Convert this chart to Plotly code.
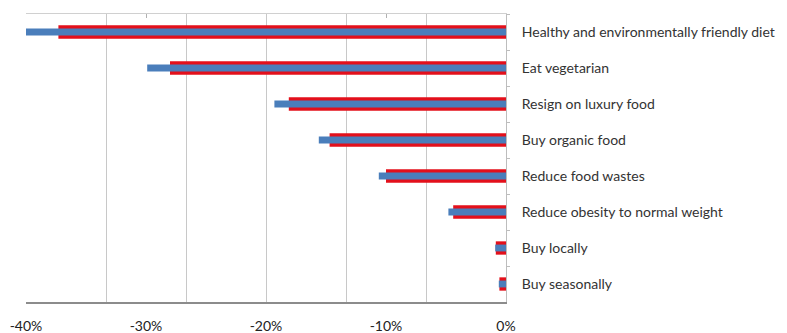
import plotly.graph_objects as go

categories = [
    "Healthy and environmentally friendly diet",
    "Eat vegetarian",
    "Resign on luxury food",
    "Buy organic food",
    "Reduce food wastes",
    "Reduce obesity to normal weight",
    "Buy locally",
    "Buy seasonally",
]
red_values = [-37.3, -28.0, -18.1, -14.7, -10.0, -4.4, -0.85, -0.55]
blue_values = [-40.0, -29.9, -19.3, -15.6, -10.6, -4.8, -0.9, -0.6]

grid_vals = [-40 + k * 40 / 6 for k in range(7)]
label_vals = [-40, -30, -20, -10, 0]
label_text = ["-40%", "-30%", "-20%", "-10%", "0%"]

FONT = "Lato"

fig = go.Figure()
fig.add_trace(go.Bar(
    y=categories, x=red_values, orientation="h", width=0.37,
    marker=dict(color="#E3101B", line=dict(width=0)), xaxis="x", yaxis="y",
    showlegend=False,
))
fig.add_trace(go.Bar(
    y=categories, x=blue_values, orientation="h", width=0.19,
    marker=dict(color="#4A7EBB", line=dict(width=0)), xaxis="x", yaxis="y",
    showlegend=False,
))
fig.add_trace(go.Scatter(x=[None], y=[None], xaxis="x2", yaxis="y", showlegend=False))
fig.add_trace(go.Scatter(x=[None], y=[None], xaxis="x3", yaxis="y", showlegend=False))

fig.update_layout(
    width=787, height=333,
    margin=dict(l=26, r=281, t=14, b=31),
    paper_bgcolor="white", plot_bgcolor="white",
    barmode="overlay",
    font=dict(family=FONT, size=14, color="#333333"),
    xaxis=dict(
        range=[-40, 0], tickvals=grid_vals, showticklabels=False,
        showgrid=True, gridcolor="#C8C8C8", gridwidth=1,
        zeroline=False, showline=True, linecolor="#8C8C8C", linewidth=1.5,
        ticks="", fixedrange=True, automargin=False,
    ),
    xaxis2=dict(
        range=[-40, 0], overlaying="x", side="bottom", anchor="y",
        tickvals=label_vals, ticktext=label_text, showgrid=False,
        zeroline=False, showline=False, ticks="",
        tickfont=dict(family=FONT, size=14, color="#222222"),
        ticklabelstandoff=14, automargin=False,
    ),
    xaxis3=dict(
        range=[-40, 0], overlaying="x", side="top", anchor="y",
        tickvals=[-30, -10], showticklabels=False, showgrid=False,
        zeroline=False, showline=True, linecolor="#D0D0D0", linewidth=1,
        ticks="inside", ticklen=4, tickcolor="#B0B0B0", automargin=False,
    ),
    yaxis=dict(
        categoryorder="array", categoryarray=categories, autorange="reversed",
        side="right", showgrid=False, zeroline=False,
        showline=True, linecolor="#BDBDBD", linewidth=1,
        ticks="outside", ticklen=3, tickcolor="#BDBDBD", tickson="boundaries",
        tickfont=dict(family=FONT, size=14, color="#333333"),
        ticklabelstandoff=12, automargin=False,
    ),
)

fig.write_html("out.html")
